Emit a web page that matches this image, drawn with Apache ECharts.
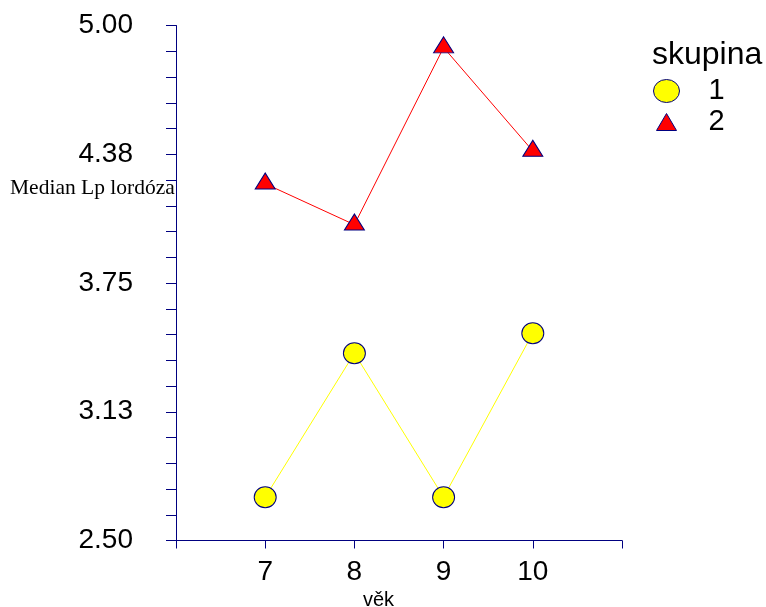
<!DOCTYPE html>
<html><head><meta charset="utf-8">
<script src="https://cdn.jsdelivr.net/npm/echarts@6/dist/echarts.min.js"></script>
<style>html,body{margin:0;padding:0;background:#fff}#c{width:766px;height:607px}</style>
</head><body><div id="c"></div>
<script>
var ages = [7, 8, 9, 10];
var group1 = [2.71, 3.409, 2.71, 3.506];
var group2 = [4.232, 4.033, 4.893, 4.391];
var yTicks = [2.5, 3.125, 3.75, 4.375, 5.0];
var seriesNames = ['1', '2'];

var navy = '#000080';
var chart = echarts.init(document.getElementById('c'));
function pairs(xs, ys){ return xs.map(function(x,i){ return [x, ys[i]]; }); }
chart.setOption({
  animation: false,
  grid: {left: 176, right: 144, top: 25.5, bottom: 66.5},
  xAxis: {
    type: 'value', min: 6, max: 11, interval: 1,
    axisLine: {show: true, lineStyle: {color: navy, width: 1}},
    axisTick: {show: true, length: 8, lineStyle: {color: navy}},
    splitLine: {show: false},
    axisLabel: {
      margin: 18, fontSize: 28, color: '#000', fontFamily: 'Liberation Sans',
      formatter: function(v){ return ages.indexOf(v) >= 0 ? String(v) : ''; }
    }
  },
  yAxis: {
    type: 'value', min: yTicks[0], max: yTicks[yTicks.length-1], interval: 0.625,
    axisLine: {show: true, lineStyle: {color: navy, width: 1}},
    axisTick: {show: true, length: 10, lineStyle: {color: navy}},
    minorTick: {show: true, splitNumber: 5, length: 10, lineStyle: {color: navy}},
    splitLine: {show: false},
    axisLabel: {
      margin: 43, fontSize: 28, color: '#000', fontFamily: 'Liberation Sans',
      formatter: function(v){ return v.toFixed(2); }
    }
  },
  legend: {
    orient: 'vertical', left: 653, top: 76.5, padding: 0,
    itemWidth: 26, itemHeight: 23, itemGap: 2,
    itemStyle: {borderWidth: 1, borderColor: navy},
    textStyle: {fontSize: 29, color: '#000', fontFamily: 'Liberation Sans', padding: [0,0,0,24]},
    data: [
      {name: seriesNames[0], icon: 'path://M0,11.5A13,11.5 0 1,1 26,11.5A13,11.5 0 1,1 0,11.5Z'},
      {name: seriesNames[1], icon: 'path://M0,0M26,23M3,20L13,3L23,20Z'}
    ]
  },
  graphic: [
    {type: 'text', left: 652, top: 39, style: {text: 'skupina', fontSize: 32, fill: '#000', fontFamily: 'Liberation Sans'}},
    {type: 'text', left: 10, top: 177, style: {text: 'Median Lp lordóza', fontSize: 21.5, fill: '#000', fontFamily: 'Liberation Serif'}},
    {type: 'text', left: 363, top: 590, style: {text: 'věk', fontSize: 20, fill: '#000', fontFamily: 'Liberation Sans'}}
  ],
  series: [
    {
      name: seriesNames[0], type: 'line', data: pairs(ages, group1),
      symbol: 'circle', symbolSize: [22, 21],
      lineStyle: {color: '#ffff00', width: 1},
      itemStyle: {color: '#ffff00', borderColor: navy, borderWidth: 1}
    },
    {
      name: seriesNames[1], type: 'line', data: pairs(ages, group2),
      symbol: 'triangle', symbolSize: [20, 16], symbolOffset: [0, -2.7],
      lineStyle: {color: '#ff0000', width: 1},
      itemStyle: {color: '#ff0000', borderColor: navy, borderWidth: 1}
    }
  ]
});
</script></body></html>
